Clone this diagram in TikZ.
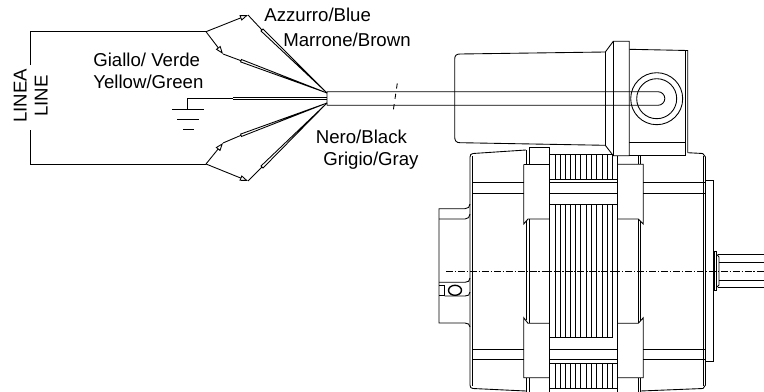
\documentclass[tikz,border=0pt]{standalone}
\usepackage{fontspec}
\setmainfont{Liberation Sans}
\usetikzlibrary{arrows.meta}
\tikzstyle{line} = [draw,line width=0.5pt]
\tikzstyle{wire} = [draw,line width=0.5pt,-{Triangle[open,length=4.6pt,width=3.2pt]}]
\tikzstyle{label} = [inner sep=0pt,anchor=base west,font=\fontsize{10.6pt}{12pt}\selectfont]
\begin{document}
\begin{tikzpicture}[x=0.02cm,y=-0.02cm]
	\useasboundingbox (0,0) rectangle (764,392);
	% line and wires
	\coordinate (fanT) at (206,31.7);
	\coordinate (fanB) at (206,164);
	\coordinate (hubT) at (327,93);
	\coordinate (hubB) at (327,103);
	\coordinate (tipA) at (248,15);
	\coordinate (tipB) at (223,54);
	\coordinate (tipC) at (223,143);
	\coordinate (tipD) at (248,181);
	\draw[line] (30.7,65) |- (fanT);
	\draw[line] (30.7,130) |- (fanB);
	\draw[wire] (fanT) -- (tipA);
	\draw[wire] (fanT) -- (tipB);
	\draw[wire] (fanB) -- (tipC);
	\draw[wire] (fanB) -- (tipD);
	\draw[line] (tipA) -- (262,30);
	\draw[line] (tipB) -- (241,60.7);
	\draw[line] (tipC) -- (241,135.3);
	\draw[line] (tipD) -- (262,167);
	\draw[line] (hubT) -- (263,29) -- (261,31) -- cycle;
	\draw[line] (hubT) -- (241.4,59.5) -- (240.6,61.9) -- cycle;
	\draw[line] (hubB) -- (241.4,136.5) -- (240.6,134.1) -- cycle;
	\draw[line] (hubB) -- (263,168) -- (261,166) -- cycle;
	\draw[line] (233,97.2) -- (327,97.2);
	\draw[line] (233,99.7) -- (327,99.7);
	\draw[line] (187,109) |- (233,98.5);
	\draw[line] (172,109) -- (204,109);
	\draw[line] (177,119) -- (199,119);
	\draw[line] (183,129) -- (194,129);
	% cable
	\draw[line] (327,105.3) -- (327,91.7) -- (658,91.7) arc (-90:90:6.8) -- (327,105.3);
	\draw[line,dashed] (397.3,83.3) -- (392.7,114.3);
	% terminal box
	\draw[line] (454.7,59) .. controls (454.7,55.5) and (456.5,54) .. (460,54) -- (605.3,52) -- (613.3,41.3) -- (629.3,41.3) -- (629.3,155.7) -- (613.3,155.7) -- (605.3,145.3) -- (460,142.7) .. controls (456.5,142.7) and (454.7,141) .. (454.7,137) -- cycle;
	\draw[line] (605.3,52) -- (605.3,145.3);
	\draw[line] (613.3,41.3) -- (613.3,155.7);
	\draw[line] (629.3,49.3) -- (687.7,50.5) -- (687.7,152.7);
	\draw[line] (685,50.5) -- (685,155.7) -- (629.3,155.7);
	\draw[line] (629.3,142.3) -- (685,142.3);
	\draw[line] (656.7,98.7) circle (26);
	\draw[line] (656.7,98.7) circle (20);
	% motor body
	\draw[line] (526,150) -- (473,153.5) .. controls (471,153.7) and (470,155) .. (470,157) -- (470,385) .. controls (470,387.5) and (471,388.3) .. (473,388.5) -- (526,391);
	\draw[line] (472.5,156) -- (472.5,386);
	\draw[line] (640.5,391) -- (703,388.5) -- (705.5,385) -- (705.5,157) -- (702.7,153.5) -- (687.7,152.7);
	\draw[line] (703.3,156) -- (703.3,386);
	\foreach \yb in {182.7,193.3,349,359.3} {
		\draw[line] (472.5,\yb) -- (523.7,\yb);
		\draw[line] (643.3,\yb) -- (705.5,\yb);
		\draw[line] (549.3,\yb) -- (617.7,\yb);
	}
	% straps
	\draw[line] (529.3,164.3) |- (549.3,147.3) -- (549.3,392);
	\draw[line] (526,150) -- (526,164.3);
	\draw[line] (523.7,164.3) -- (549.3,164.3);
	\draw[line] (523.7,164.3) -- (523.7,224) -- (528,219) -- (549.3,219);
	\draw[line] (526,221) -- (526,320);
	\draw[line] (529.3,219) -- (529.3,323.3);
	\draw[line] (549.3,323.3) -- (528,323.3) -- (523.7,317.7) -- (523.7,377.7) -- (549.3,377.7);
	\draw[line] (526,377.7) -- (526,392);
	\draw[line] (529.3,377.7) -- (529.3,392);
	\draw[line] (617.7,155.7) -- (617.7,392);
	\draw[line] (617.7,164.3) -- (643.3,164.3) -- (643.3,224) -- (638.3,219) -- (617.7,219);
	\draw[line] (638.3,155.7) -- (638.3,164.3);
	\draw[line] (640.5,155.7) -- (640.5,164.3);
	\draw[line] (638.3,219) -- (638.3,323.3);
	\draw[line] (640.5,221) -- (640.5,321);
	\draw[line] (617.7,323.3) -- (638.3,323.3) -- (643.3,317.7) -- (643.3,377.7) -- (617.7,377.7);
	\draw[line] (638.3,377.7) -- (638.3,392);
	\draw[line] (640.5,377.7) -- (640.5,392);
	% stator fins
	\foreach \xf in {555,560,565.3,570.3,575.3,580.7,586,591,596.7,602,607,612.7} {
		\draw[line] (\xf,154.3) -- (\xf,179.3);
		\draw[line] (\xf,204) -- (\xf,337.3);
		\draw[line] (\xf,363.7) -- (\xf,388.3);
	}
	\draw[line] (549.3,154.3) -- (613.3,154.3);
	\draw[line] (549.3,179.8) -- (617.7,179.8);
	\draw[line] (549.3,204) -- (617.7,204);
	\draw[line] (549.3,337.3) -- (612.7,337.3);
	\draw[line] (549.3,363.7) -- (617.7,363.7);
	\draw[line] (549.3,388.3) -- (617.7,388.3);
	% rear boss
	\draw[line] (470,204) .. controls (470,207) and (468,208.7) .. (465,208.7) -- (439,208.7) -- (439,323) -- (465,323) .. controls (468,323) and (470,324.5) .. (470,327);
	\draw[line] (439,219) -- (465,219) .. controls (468,219) and (470,217) .. (470,214);
	\draw[line] (439,282.3) -- (465,282.3) .. controls (468,282.3) and (470,281) .. (470,278);
	\draw[line] (444.7,296) -- (465,296) .. controls (468,296) and (470,295) .. (470,292);
	\draw[line] (439,285.3) -| (444.7,295.7) -- (439,295.7);
	\draw[line,line width=0.8pt] (455,290.3) ellipse (6.5 and 5);
	% shaft
	\draw[line] (705.5,180.3) -| (713.7,361.7) -- (705.5,361.7);
	\draw[line] (714,251.7) -- (716.7,251.7) -- (716.7,290) -- (714,290) -- cycle;
	\draw[line] (716.7,254.3) -- (719,257) -- (719,285) -- (716.7,287.3);
	\draw[line] (718,254.3) -- (764,254.3);
	\draw[line] (719,262.7) -- (764,262.7);
	\draw[line] (719,280) -- (764,280);
	\draw[line] (718,287.3) -- (764,287.3);
	\draw[line,dash pattern=on 4pt off 1pt on 0.8pt off 1pt] (446,271) -- (764,271);
	% texts
	\node[label] (azzurro) at (264,21.5) {Azzurro/Blue};
	\node[label] (marrone) at (283,46.5) {Marrone/Brown};
	\node[label] (giallo) at (93,66.5) {Giallo/ Verde};
	\node[label] (yellow) at (93,88) {Yellow/Green};
	\node[label] (nero) at (315.5,143) {Nero/Black};
	\node[label] (grigio) at (323,165) {Grigio/Gray};
	\node[label,rotate=90] (linea) at (26.7,123) {LINEA};
	\node[label,rotate=90] (lineB) at (47.7,117) {LINE};
\end{tikzpicture}
\end{document}
